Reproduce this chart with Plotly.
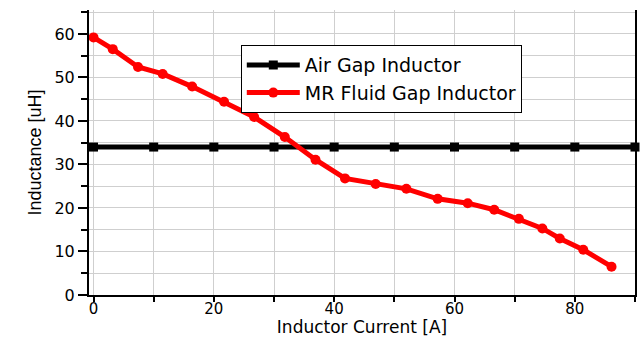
import plotly.graph_objects as go

# Data
air_x = [0, 10, 20, 30, 40, 50, 60, 70, 80, 90]
air_y = [34, 34, 34, 34, 34, 34, 34, 34, 34, 34]

mr_x = [0, 3.2, 7.4, 11.5, 16.4, 21.7, 26.7, 31.8, 36.9, 41.8, 46.9, 52.0,
        57.2, 62.2, 66.6, 70.7, 74.6, 77.5, 81.4, 86.1]
mr_y = [59.2, 56.5, 52.4, 50.8, 47.9, 44.4, 40.9, 36.3, 31.1, 26.8, 25.5, 24.4,
        22.1, 21.1, 19.6, 17.5, 15.3, 13.0, 10.4, 6.5]

x_title = "Inductor Current [A]"
y_title = "Inductance [uH]"
names = ["Air Gap Inductor", "MR Fluid Gap Inductor"]

GRID = "#cfcfcf"
FONT = "DejaVu Sans"

fig = go.Figure()
fig.add_trace(go.Scatter(
    x=air_x, y=air_y, name=names[0], mode="lines+markers",
    line=dict(color="#000000", width=5),
    marker=dict(symbol="square", size=9, color="#000000"),
    cliponaxis=False,
))
fig.add_trace(go.Scatter(
    x=mr_x, y=mr_y, name=names[1], mode="lines+markers",
    line=dict(color="#ff0000", width=5),
    marker=dict(symbol="circle", size=10, color="#ff0000"),
))

fig.update_layout(
    width=642, height=337,
    margin=dict(l=89, r=7, t=10, b=42),
    plot_bgcolor="white", paper_bgcolor="white",
    font=dict(family=FONT, color="#000000", size=16),
    showlegend=True,
    legend=dict(
        x=0.278, y=0.877, xanchor="left", yanchor="top",
        bgcolor="white", bordercolor="#000000", borderwidth=1,
        font=dict(family=FONT, size=19, color="#000000"),
        itemwidth=53, tracegroupgap=0,
    ),
)

fig.update_xaxes(
    range=[-0.75, 90], dtick=20, tick0=0, automargin=False,
    showline=True, linecolor="#000000", linewidth=2, mirror=False,
    showgrid=True, gridcolor=GRID, gridwidth=1, zeroline=False,
    ticks="outside", ticklen=5, tickwidth=1.5, tickcolor="#000000",
    tickfont=dict(family=FONT, size=15), ticklabelstandoff=-6,
    minor=dict(dtick=10, showgrid=True, gridcolor=GRID, gridwidth=1,
               ticks="outside", ticklen=5, tickwidth=1.5, tickcolor="#000000"),
    title=dict(text=x_title, font=dict(family=FONT, size=17), standoff=0),
)
fig.update_yaxes(
    range=[0, 65.5], dtick=10, tick0=0, automargin=False,
    showline=True, linecolor="#000000", linewidth=2, mirror=True,
    showgrid=True, gridcolor=GRID, gridwidth=1, zeroline=False,
    ticks="outside", ticklen=9, tickwidth=1.5, tickcolor="#000000",
    tickfont=dict(family=FONT, size=16),
    minor=dict(dtick=5, showgrid=True, gridcolor=GRID, gridwidth=1,
               ticks="outside", ticklen=6, tickwidth=1.5, tickcolor="#000000"),
    title=dict(text=y_title, font=dict(family="Liberation Sans", size=18), standoff=8),
)

fig.write_html("out.html")
